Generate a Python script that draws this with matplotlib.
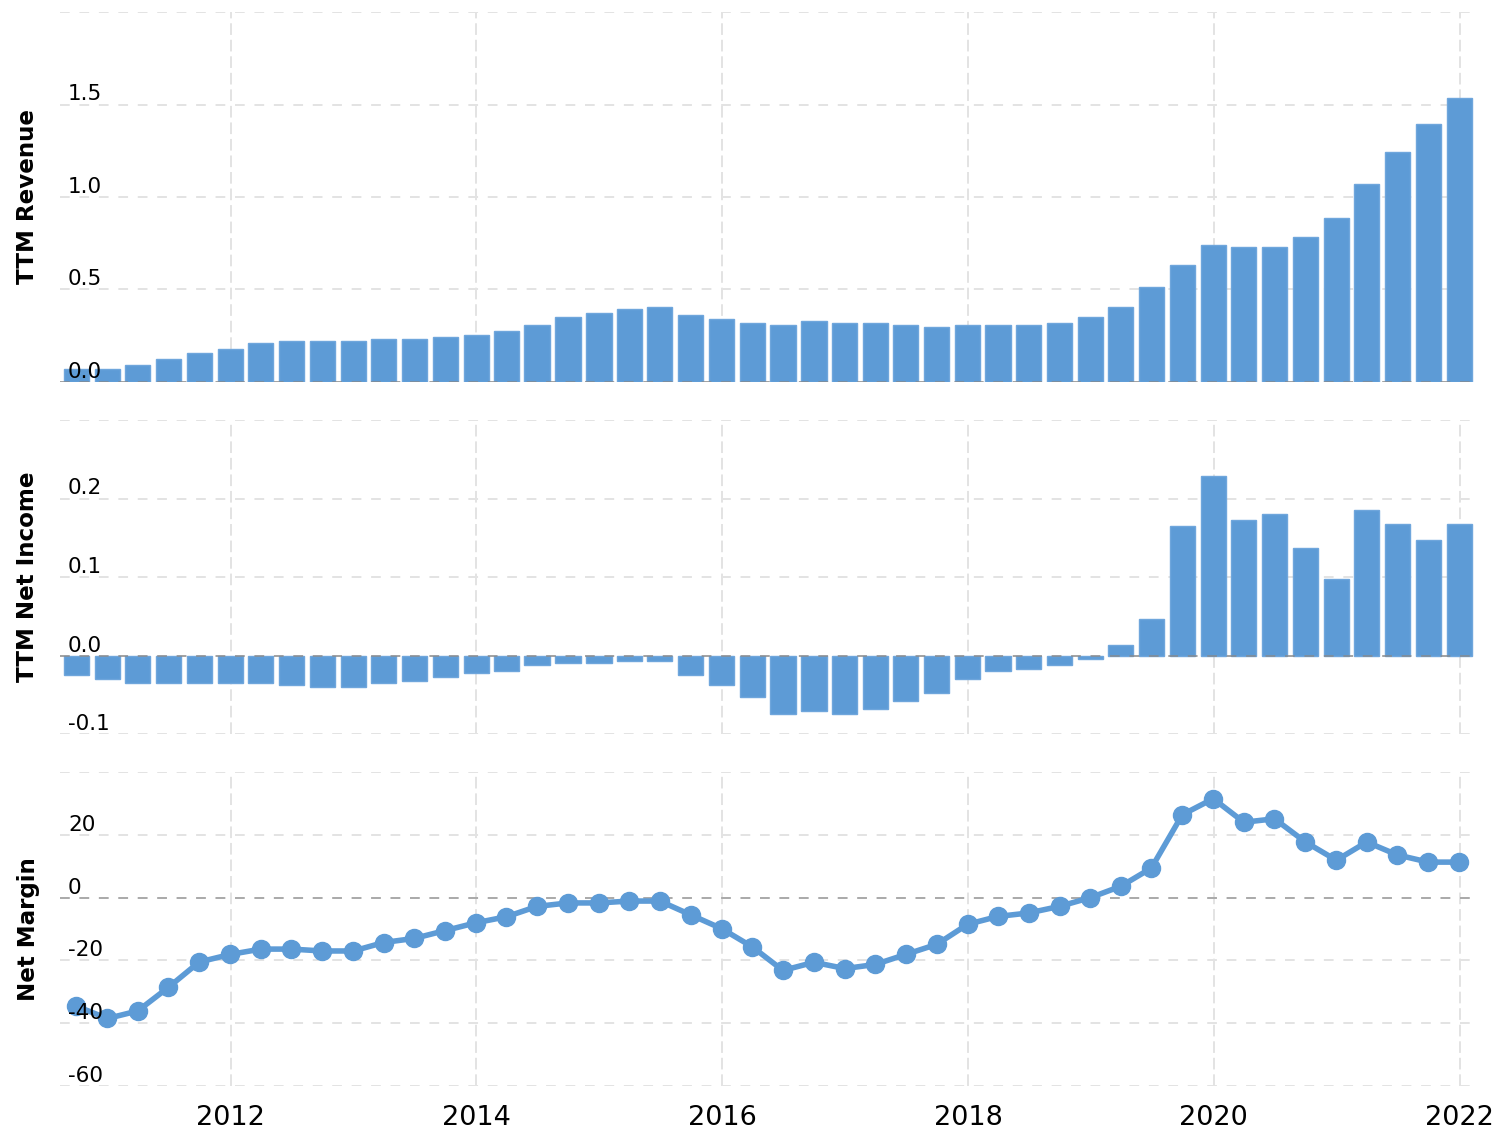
#Revenue, net income and net margin, three stacked panels

import numpy as np
import pandas as pd
import matplotlib
matplotlib.use("Agg")
import matplotlib.pyplot as plt
import matplotlib.dates as mdates

#quarterly data (TTM values, billions and %)
quarters = pd.date_range("2010-09-30", periods=46, freq="QE")

revenue = [0.069, 0.069, 0.091, 0.123, 0.156, 0.178, 0.210, 0.221, 0.221, 0.221,
           0.232, 0.232, 0.243, 0.254, 0.275, 0.308, 0.351, 0.373, 0.395, 0.406,
           0.362, 0.341, 0.319, 0.308, 0.330, 0.319, 0.319, 0.308, 0.297, 0.308,
           0.308, 0.308, 0.319, 0.351, 0.406, 0.514, 0.634, 0.743, 0.732, 0.732,
           0.786, 0.884, 1.069, 1.243, 1.395, 1.536]

net_income = [-0.025, -0.030, -0.035, -0.035, -0.035, -0.035, -0.035, -0.038, -0.040, -0.040,
              -0.035, -0.033, -0.027, -0.022, -0.020, -0.012, -0.009, -0.009, -0.007, -0.007,
              -0.025, -0.038, -0.053, -0.074, -0.071, -0.074, -0.068, -0.058, -0.048, -0.030,
              -0.020, -0.017, -0.012, -0.004, 0.014, 0.047, 0.165, 0.229, 0.173, 0.180,
              0.137, 0.098, 0.185, 0.168, 0.147, 0.168]

net_margin = [-34.6, -38.5, -36.1, -28.6, -20.5, -18.1, -16.4, -16.4, -17.0, -17.0,
              -14.3, -13.0, -10.5, -8.0, -6.1, -2.8, -1.7, -1.7, -1.1, -1.1,
              -5.5, -9.9, -15.7, -23.2, -20.6, -22.6, -21.3, -18.1, -14.9, -8.5,
              -6.0, -4.9, -2.8, 0.0, 3.6, 9.4, 26.4, 31.5, 24.0, 25.1,
              17.7, 11.9, 17.7, 13.6, 11.3, 11.3]

rev_ticks = [0.0, 0.5, 1.0, 1.5]
ni_ticks = [-0.1, 0.0, 0.1, 0.2]
nm_ticks = [-60, -40, -20, 0, 20]

blue = "#5d9bd6"
grid_col = "#e3e3e3"

plt.rcParams["font.family"] = ["DejaVu Sans"]

fig = plt.figure(figsize=(15.1, 11.4), dpi=100)

left, width = 60 / 1510, 1415 / 1510
ax1 = fig.add_axes([left, 1 - 382 / 1140, width, 370 / 1140])
ax2 = fig.add_axes([left, 1 - 734 / 1140, width, 314 / 1140], sharex=ax1)
ax3 = fig.add_axes([left, 1 - 1086 / 1140, width, 314 / 1140], sharex=ax1)


def style_axis(ax, ticks, top, fmt):
    ax.set_yticks(ticks + [top])
    ax.set_ylim(ticks[0], top)
    ax.tick_params(axis="y", length=0, labelleft=False)
    ax.tick_params(axis="x", length=0)
    for s in ax.spines.values():
        s.set_visible(False)
    ax.yaxis.grid(True, color=grid_col, linewidth=1.4, linestyle=(0, (5, 5)), zorder=0)
    ax.xaxis.grid(True, color=grid_col, linewidth=1.4, linestyle=(0, (6, 2.5)), zorder=0)
    ax.set_axisbelow(True)
    #tick labels inside the plot, above each gridline
    for t in ticks:
        ax.annotate(fmt.format(t), xy=(0, t), xycoords=ax.get_yaxis_transform(),
                    xytext=(8, 4), textcoords="offset pixels", ha="left", va="baseline",
                    fontsize=15.5, color="black", zorder=5)


bar_w = 75

#TTM revenue
ax1.bar(quarters, revenue, width=bar_w, color=blue, edgecolor="#6fa6dc", linewidth=1, zorder=2)
style_axis(ax1, rev_ticks, 2.0, "{:.1f}")
ax1.axhline(0, color="#888888", alpha=0.7, linewidth=1.4, linestyle=(0, (5, 5)), zorder=3)

#TTM net income
ax2.bar(quarters, net_income, width=bar_w, color=blue, edgecolor="#6fa6dc", linewidth=1, zorder=2)
style_axis(ax2, ni_ticks, 0.3, "{:.1f}")
ax2.axhline(0, color="#888888", alpha=0.7, linewidth=1.4, linestyle=(0, (5, 5)), zorder=3)

#net margin
style_axis(ax3, nm_ticks, 40, "{:.0f}")
ax3.axhline(0, color="#aaaaaa", linewidth=1.4, linestyle=(0, (5, 5)), zorder=1)
ax3.plot(quarters, net_margin, color=blue, linewidth=4, marker="o", markersize=13, zorder=3)

ax3.set_xlim(pd.Timestamp("2010-08-12"), pd.Timestamp("2022-02-16"))
ax3.xaxis.set_major_locator(mdates.YearLocator(2))
ax3.xaxis.set_major_formatter(mdates.DateFormatter("%Y"))
ax1.tick_params(axis="x", labelbottom=False)
ax2.tick_params(axis="x", labelbottom=False)
ax3.tick_params(axis="x", labelsize=19.5, pad=14, colors="black")

#panel titles on the left
for ax, lab in [(ax1, "TTM Revenue"), (ax2, "TTM Net Income"), (ax3, "Net Margin")]:
    pos = ax.get_position()
    fig.text(28 / 1510, (pos.y0 + pos.y1) / 2, lab, rotation=90, ha="center", va="center",
             fontsize=16.6, fontweight="bold", color="black")

fig.savefig("out.png", dpi=100)
